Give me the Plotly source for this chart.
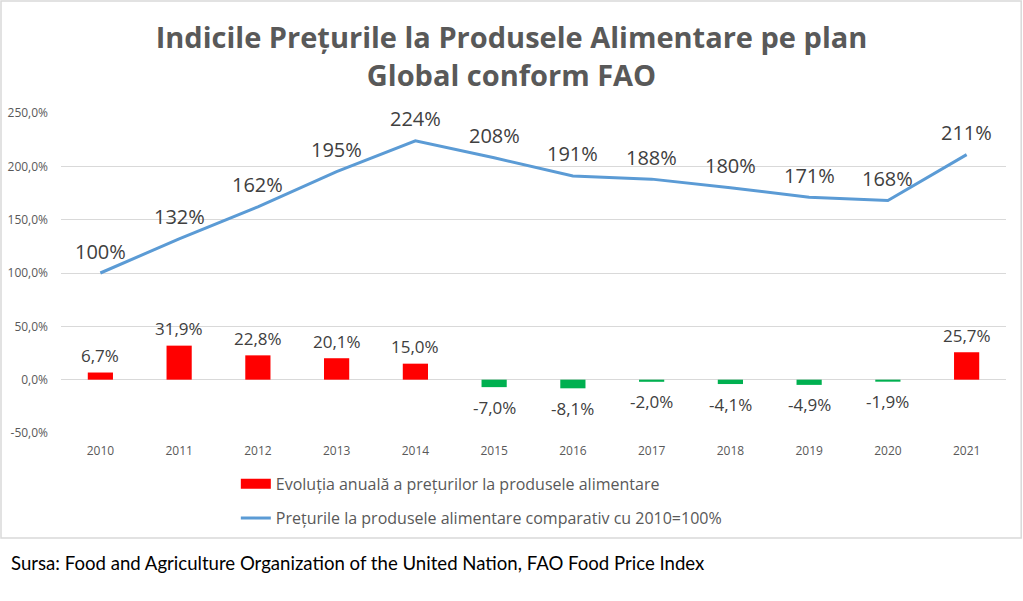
import plotly.graph_objects as go

# data
years = ["2010", "2011", "2012", "2013", "2014", "2015",
         "2016", "2017", "2018", "2019", "2020", "2021"]
annual_change = [6.7, 31.9, 22.8, 20.1, 15.0, -7.0, -8.1, -2.0, -4.1, -4.9, -1.9, 25.7]
price_index = [100, 132, 162, 195, 224, 208, 191, 188, 180, 171, 168, 211]

y_ticks = [-50, 0, 50, 100, 150, 200, 250]
y_tick_labels = ["-50,0%", "0,0%", "50,0%", "100,0%", "150,0%", "200,0%", "250,0%"]

bar_name = "Evoluția anuală a prețurilor la produsele alimentare"
line_name = "Prețurile la produsele alimentare comparativ cu 2010=100%"
title = "Indicile Prețurile la Produsele Alimentare pe plan<br>Global conform FAO"
source = "Sursa: Food and Agriculture Organization of the United Nation, FAO Food Price Index"

RED = "#ff0000"
GREEN = "#00b050"
BLUE = "#5b9bd5"
LABEL = "#404040"
AXIS = "#595959"

bar_colors = [RED if v >= 0 else GREEN for v in annual_change]

fig = go.Figure()

fig.add_trace(go.Bar(
    x=years, y=annual_change, name=bar_name,
    marker=dict(color=bar_colors, line=dict(width=0)),
    showlegend=False,
))

# legend swatch for the bars (wide red block like the original)
fig.add_trace(go.Scatter(
    x=[None], y=[None], name=bar_name, mode="lines",
    line=dict(color=RED, width=10), legend="legend",
))

fig.add_trace(go.Scatter(
    x=years, y=price_index, name=line_name, mode="lines",
    line=dict(color=BLUE, width=3), legend="legend2",
))

# data labels (category axis -> annotation x is the category index)
for i, v in enumerate(price_index):
    fig.add_annotation(x=i, y=v, text=f"{v}%", showarrow=False,
                       yanchor="middle", yshift=22,
                       font=dict(family="Open Sans", size=20, color=LABEL))
for i, v in enumerate(annual_change):
    fig.add_annotation(x=i, y=v, text=f"{v:.1f}%".replace(".", ","),
                       showarrow=False, yanchor="middle",
                       yshift=17 if v >= 0 else -20,
                       font=dict(family="Open Sans", size=17, color=LABEL))

legend_style = dict(
    orientation="v", x=0.185, xanchor="left", yanchor="middle",
    font=dict(family="Open Sans", size=16, color=AXIS),
    bgcolor="rgba(0,0,0,0)",
)

fig.update_layout(
    width=1023, height=601,
    margin=dict(l=61, r=17, t=113, b=168, autoexpand=False),
    paper_bgcolor="white", plot_bgcolor="white",
    bargap=0.68,
    showlegend=True,
    title=dict(
        text=title, x=0.5, xanchor="center", y=0.92, yanchor="middle",
        font=dict(family="Open Sans", size=29, color=AXIS, weight="bold"),
    ),
    legend=dict(y=-0.159, **legend_style),
    legend2=dict(y=-0.266, **legend_style),
    font=dict(family="Open Sans", color=AXIS),
)

fig.update_xaxes(
    type="category", range=[-0.5, len(years) - 0.5], automargin=False,
    showgrid=False, showline=False, ticks="", ticklabelstandoff=9,
    tickfont=dict(family="Open Sans", size=12, color=AXIS),
)
fig.update_yaxes(
    range=[-50, 250], tickvals=y_ticks, ticktext=y_tick_labels, automargin=False,
    showgrid=True, gridcolor="#d9d9d9", gridwidth=1,
    zeroline=True, zerolinecolor="#d9d9d9", zerolinewidth=1,
    showline=False, ticks="", ticklabelstandoff=12,
    tickfont=dict(family="Open Sans", size=12, color=AXIS),
)

# chart frame
fig.add_shape(type="rect", xref="paper", yref="paper",
              x0=-0.0635, x1=1.0161, y0=-0.328, y1=1.35,
              line=dict(color="#d9d9d9", width=1.5), layer="below")

fig.add_annotation(
    text=source, xref="paper", yref="paper", x=-0.055, y=-0.406,
    xanchor="left", yanchor="middle", showarrow=False,
    font=dict(family="Lato", size=18.6, color="#000000"),
)

fig.write_html("out.html", config={"displayModeBar": False})

# drop the default body margin so the figure sits at the page corner
with open("out.html", encoding="utf-8") as f:
    html = f.read()
html = html.replace("<body>", '<body style="margin:0">', 1)
with open("out.html", "w", encoding="utf-8") as f:
    f.write(html)
